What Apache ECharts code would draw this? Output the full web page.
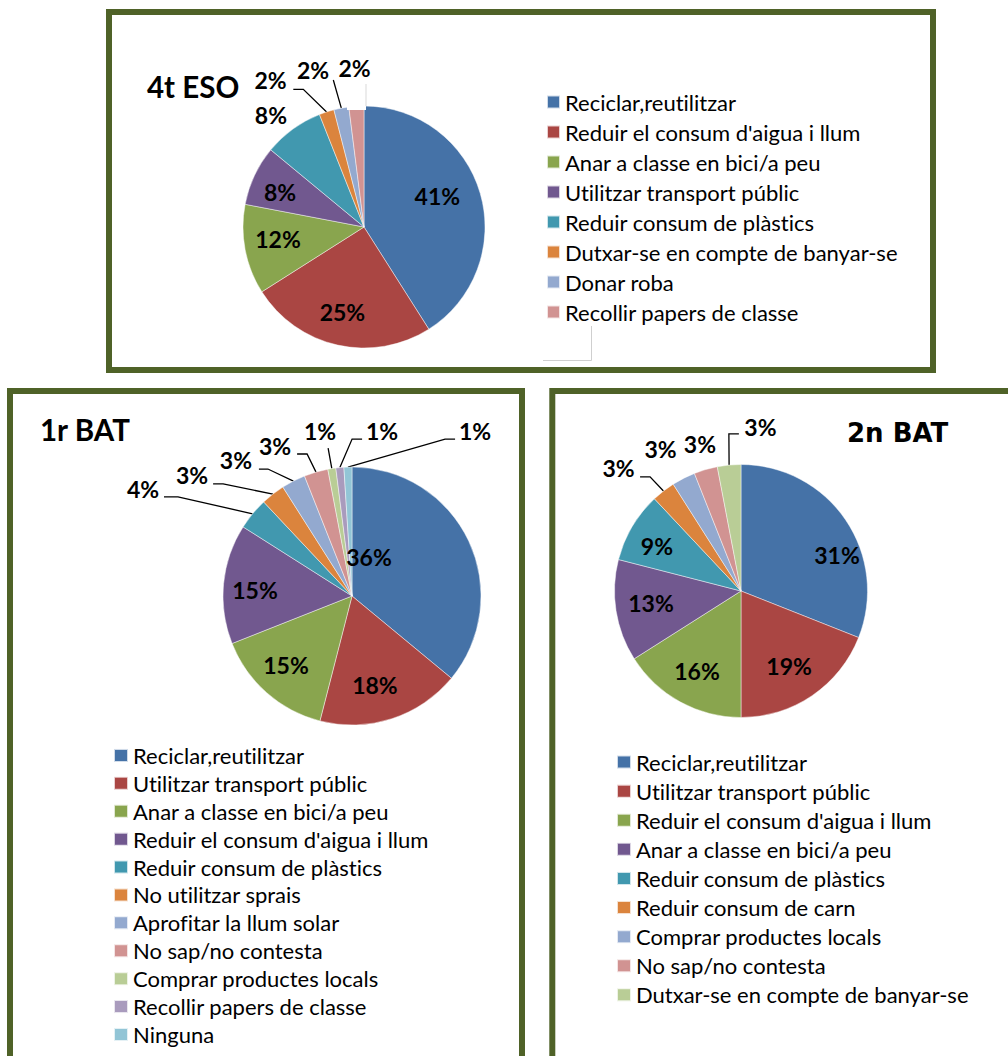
<!DOCTYPE html>
<html>
<head>
<meta charset="utf-8">
<title>Accions per al medi ambient</title>
<script src="https://cdn.jsdelivr.net/npm/echarts@6/dist/echarts.min.js"></script>
<style>
  html, body { margin: 0; padding: 0; background: #ffffff; }
  .panel { position: absolute; left: 0; top: 0; width: 1008px; height: 1056px; }
  /* plain letter forms, no "ti"/"fi" ligatures */
  svg text { font-variant-ligatures: none !important; font-feature-settings: "liga" 0, "clig" 0 !important; }
</style>
</head>
<body>
<div id="eso4" class="panel"></div>
<div id="bat1" class="panel"></div>
<div id="bat2" class="panel"></div>
<script>
// ---- data -----------------------------------------------------------
const eso4Title = '4t ESO';
const eso4Categories = [
  'Reciclar,reutilitzar',
  "Reduir el consum d'aigua i llum",
  'Anar a classe en bici/a peu',
  'Utilitzar transport públic',
  'Reduir consum de plàstics',
  'Dutxar-se en compte de banyar-se',
  'Donar roba',
  'Recollir papers de classe'
];
const eso4Values = [41, 25, 12, 8, 8, 2, 2, 2];

const bat1Title = '1r BAT';
const bat1Categories = [
  'Reciclar,reutilitzar',
  'Utilitzar transport públic',
  'Anar a classe en bici/a peu',
  "Reduir el consum d'aigua i llum",
  'Reduir consum de plàstics',
  'No utilitzar sprais',
  'Aprofitar la llum solar',
  'No sap/no contesta',
  'Comprar productes locals',
  'Recollir papers de classe',
  'Ninguna'
];
const bat1Values = [36, 18, 15, 15, 4, 3, 3, 3, 1, 1, 1];

const bat2Title = '2n BAT';
const bat2Categories = [
  'Reciclar,reutilitzar',
  'Utilitzar transport públic',
  "Reduir el consum d'aigua i llum",
  'Anar a classe en bici/a peu',
  'Reduir consum de plàstics',
  'Reduir consum de carn',
  'Comprar productes locals',
  'No sap/no contesta',
  'Dutxar-se en compte de banyar-se'
];
const bat2Values = [31, 19, 16, 13, 9, 3, 3, 3, 3];

// ---- styling --------------------------------------------------------
const FONT = 'Lato';
const FRAME_COLOR = '#4F6228';
const SLICE_COLORS = ['#4572A7', '#AA4643', '#89A54E', '#71588F', '#4198AF',
                      '#DB843D', '#93A9CF', '#D19392', '#B9CD96', '#A99BBD', '#92C5D6'];

// Label placement per slice: k = distance from centre in radii,
// t = angular shift (deg) from the slice mid-angle,
// line = [dx, dy, bend] : leader end relative to label centre, horizontal bend length.
const panels = [
  {
    el: 'eso4', title: eso4Title, categories: eso4Categories, values: eso4Values,
    frame: { x: 109, y: 12, w: 824, h: 358 },
    titleAt: [147, 86.5], titleFont: 'bold 29.5px ' + FONT,
    center: [364, 227], radius: 121,
    legend: { left: 546, top: 87, row: 30, icon: 13 },
    spots: [
      { k: 0.656, t: -6.2 }, { k: 0.733, t: 1.5 }, { k: 0.719, t: 2.2 }, { k: 0.75, t: -2.9 },
      { k: 1.197, t: -4.0 },
      { k: 1.434, t: -14.6, line: [22.8, 8.5, 10] },
      { k: 1.356, t: -7.3, line: [20.3, 9, 0] },
      { k: 1.308, t: 0.2 }
    ],
    extras: [
      // legend box outline fragment and label backing box
      { type: 'rect', z: 100, shape: { x: 347, y: 83, width: 19, height: 27 },
        style: { fill: '#ffffff' } },
      { type: 'line', z: 101, shape: { x1: 366, y1: 84, x2: 366, y2: 106 },
        style: { stroke: '#d9d9d9', lineWidth: 1 } },
      { type: 'polyline', z: 101, shape: { points: [[591.5, 326], [591.5, 360.5], [543, 360.5]] },
        style: { stroke: '#cfcfcf', lineWidth: 1, fill: null } }
    ]
  },
  {
    el: 'bat1', title: bat1Title, categories: bat1Categories, values: bat1Values,
    frame: { x: 10, y: 391, w: 512, h: 720 },
    titleAt: [40, 429.5], titleFont: 'bold 29.5px ' + FONT,
    center: [352, 596], radius: 129,
    legend: { left: 113, top: 741.5, row: 27.9, icon: 14 },
    spots: [
      { k: 0.326, t: -41.0 }, { k: 0.72, t: 3.7 }, { k: 0.746, t: 1.9 }, { k: 0.753, t: -2.45 },
      { k: 1.817, t: -12.7, line: [21, 7, 14] },
      { k: 1.550, t: -15.3, line: [21, 8, 10] },
      { k: 1.380, t: -13.7, line: [23, 8, 9] },
      { k: 1.300, t: -11.1, line: [22, 7, 10] },
      { k: 1.295, t: -2.0, line: [8, 16, 0] },
      { k: 1.292, t: 15.8, line: [-20, 7, -10] },
      { k: 1.589, t: 38.7, line: [-20, 7, -10] }
    ]
  },
  {
    el: 'bat2', title: bat2Title, categories: bat2Categories, values: bat2Values,
    frame: { x: 552.3, y: 391, w: 500, h: 720 },
    titleAt: [847, 432.5], titleFont: 'bold 26px "DejaVu Sans"',
    center: [741, 591], radius: 126.5,
    legend: { left: 616, top: 747.5, row: 29.1, icon: 14 },
    spots: [
      { k: 0.808, t: 14.2 }, { k: 0.711, t: 1.9 }, { k: 0.729, t: -0.3 }, { k: 0.719, t: 0.8 },
      { k: 0.750, t: -3.0 },
      { k: 1.364, t: -7.4, line: [21.5, 7.5, 10] },
      { k: 1.280, t: -2.8 },
      { k: 1.199, t: 0.5 },
      { k: 1.294, t: 12.2, line: [-21.5, 5.5, -10] }
    ]
  }
];

function midAngles(values) {
  const total = values.reduce((a, b) => a + b, 0);
  let acc = 0;
  return values.map(v => {
    const m = (acc + v / 2) / total * 360;
    acc += v;
    return m;
  });
}

function polar(cx, cy, rr, deg) {
  const a = deg * Math.PI / 180;
  return [cx + rr * Math.sin(a), cy - rr * Math.cos(a)];
}

panels.forEach(function (p) {
  const chart = echarts.init(document.getElementById(p.el), null, { renderer: 'svg' });
  const mids = midAngles(p.values);
  const [cx, cy] = p.center;
  const r = p.radius;

  const data = p.values.map(function (v, i) {
    const spot = p.spots[i];
    return {
      name: p.categories[i],
      value: v,
      itemStyle: { color: SLICE_COLORS[i] },
      label: { position: spot.k < 1 ? 'inside' : 'outside' },
      labelLine: { show: !!spot.line }
    };
  });

  chart.setOption({
    backgroundColor: 'transparent',
    animation: false,
    graphic: [
      { type: 'rect', z: 0, silent: true,
        shape: { x: p.frame.x, y: p.frame.y, width: p.frame.w, height: p.frame.h },
        style: { fill: null, stroke: FRAME_COLOR, lineWidth: 6 } },
      { type: 'text', z: 10, silent: true, x: p.titleAt[0], y: p.titleAt[1],
        style: { text: p.title, fill: '#000', font: p.titleFont,
                 align: 'left', verticalAlign: 'middle' } }
    ].concat(p.extras || []),
    legend: {
      orient: 'vertical',
      left: p.legend.left,
      top: p.legend.top,
      padding: 0,
      itemGap: 0,
      itemWidth: p.legend.icon,
      itemHeight: 13,
      icon: 'rect',
      selectedMode: false,
      textStyle: { fontFamily: FONT, fontSize: 22, color: '#000', lineHeight: p.legend.row },
      data: p.categories
    },
    series: [{
      type: 'pie',
      center: [cx, cy],
      radius: r,
      startAngle: 90,
      clockwise: true,
      avoidLabelOverlap: false,
      silent: true,
      emphasis: { disabled: true },
      itemStyle: { borderColor: 'rgba(255,255,255,0.75)', borderWidth: 0.6 },
      label: {
        show: true,
        formatter: function (d) { return d.value + '%'; },
        fontFamily: FONT, fontWeight: 'bold', fontSize: 23, color: '#000'
      },
      labelLine: { show: true, length: 10, length2: 10,
                   lineStyle: { color: '#000', width: 1.3 } },
      labelLayout: function (params) {
        const i = params.dataIndex;
        const spot = p.spots[i];
        const pos = polar(cx, cy, spot.k * r, mids[i] + spot.t);
        const out = { x: pos[0], y: pos[1] - 1, align: 'center', verticalAlign: 'middle' };
        if (spot.line) {
          const start = polar(cx, cy, r, mids[i]);
          const end = [pos[0] + spot.line[0], pos[1] + spot.line[1]];
          const bend = spot.line[2]
            ? [end[0] + spot.line[2], end[1]]
            : [(start[0] + end[0]) / 2, (start[1] + end[1]) / 2];
          out.labelLinePoints = [start, bend, end];
        }
        return out;
      },
      data: data
    }]
  });
});
</script>
</body>
</html>
